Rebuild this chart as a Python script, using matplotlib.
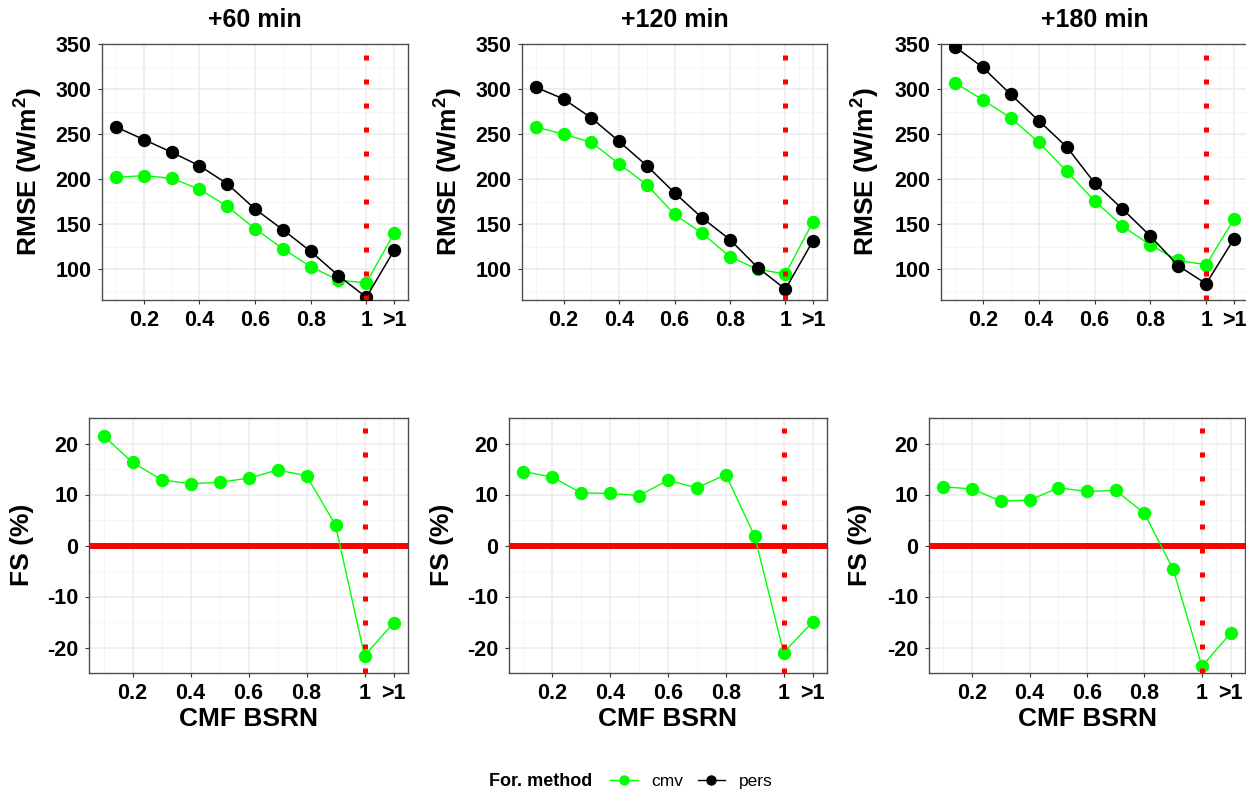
import matplotlib
matplotlib.use("Agg")
import matplotlib.pyplot as plt
from matplotlib.lines import Line2D

plt.rcParams['font.family'] = ['Liberation Sans', 'DejaVu Sans']
plt.rcParams['mathtext.fontset'] = 'custom'
plt.rcParams['mathtext.rm'] = 'Liberation Sans:bold'
plt.rcParams['mathtext.bf'] = 'Liberation Sans:bold'
plt.rcParams['mathtext.default'] = 'bf'
plt.rcParams['axes.unicode_minus'] = False

# CMF classes; 1.1 stands for the ">1" class
cmf = [0.1, 0.2, 0.3, 0.4, 0.5, 0.6, 0.7, 0.8, 0.9, 1.0, 1.1]
tick_pos = [0.2, 0.4, 0.6, 0.8, 1.0, 1.1]
tick_lab = ['0.2', '0.4', '0.6', '0.8', '1', '>1']
horizons = ['+60 min', '+120 min', '+180 min']

rmse_cmv_60 = [202, 204, 201, 189, 170, 145, 123, 103, 88, 85, 140]
rmse_pers_60 = [258, 244, 230, 215, 195, 167, 144, 120, 93, 69, 121]
rmse_cmv_120 = [258, 250, 241, 217, 194, 161, 140, 114, 100, 95, 153]
rmse_pers_120 = [302, 289, 268, 242, 215, 185, 157, 133, 102, 78, 132]
rmse_cmv_180 = [307, 288, 268, 241, 209, 176, 148, 127, 110, 105, 156]
rmse_pers_180 = [347, 324, 294, 265, 236, 196, 167, 137, 104, 84, 134]

fs_60 = [21.5, 16.3, 12.9, 12.1, 12.4, 13.2, 14.8, 13.7, 4.0, -21.6, -15.2]
fs_120 = [14.5, 13.4, 10.3, 10.2, 9.8, 12.8, 11.3, 13.9, 1.8, -21.0, -15.0]
fs_180 = [11.5, 11.1, 8.7, 8.9, 11.3, 10.6, 10.8, 6.3, -4.7, -23.7, -17.2]

rmse_cmv = [rmse_cmv_60, rmse_cmv_120, rmse_cmv_180]
rmse_pers = [rmse_pers_60, rmse_pers_120, rmse_pers_180]
fs = [fs_60, fs_120, fs_180]

GREEN = '#00FF00'
RED = '#FF0000'
W, H = 1246, 794
fig = plt.figure(figsize=(W / 100, H / 100), dpi=100)


def px_axes(l, t, r, b):
    return fig.add_axes([l / W, 1 - b / H, (r - l) / W, (b - t) / H])


def style(ax, ymaj, ymin, ylim):
    ax.set_xlim(0.05, 1.15)
    ax.set_ylim(*ylim)
    ax.set_xticks(tick_pos)
    ax.set_xticklabels(tick_lab)
    ax.set_xticks([0.1, 0.3, 0.5, 0.7, 0.9, 1.05], minor=True)
    ax.set_yticks(ymaj)
    ax.set_yticks(ymin, minor=True)
    ax.grid(which='major', color='#EBEBEB', lw=1.1, zorder=0)
    ax.grid(which='minor', color='#F4F4F4', lw=0.6, zorder=0)
    ax.set_axisbelow(True)
    ax.tick_params(which='major', length=3, width=0.8, color='#333333',
                   labelsize=15.5, pad=4.5)
    ax.tick_params(which='minor', length=0)
    for lab in ax.get_xticklabels() + ax.get_yticklabels():
        lab.set_fontweight('bold')
    for sp in ax.spines.values():
        sp.set_color('#4d4d4d')
        sp.set_linewidth(1.0)


def vline(ax):
    ax.axvline(1.0, color=RED, lw=3.6, ls=(0, (1, 3.8)), zorder=5)


top_l = [102, 522, 941]
top_r = [408, 827, 1248]
bot_l = [89, 509, 929]
bot_r = [408, 827, 1245]
ylab_top_x = [29, 449, 866]
ylab_bot_x = [22.5, 442.5, 860.5]

for i in range(3):
    # RMSE panel
    ax = px_axes(top_l[i], 44, top_r[i], 300)
    style(ax, [100, 150, 200, 250, 300, 350], [75, 125, 175, 225, 275, 325],
          (66, 350))
    ax.plot(cmf, rmse_cmv[i], color=GREEN, lw=1.0, marker='o', ms=8.6,
            zorder=3, clip_on=False)
    ax.plot(cmf, rmse_pers[i], color='black', lw=1.1, marker='o', ms=8.6,
            zorder=4)
    vline(ax)
    fig.text((top_l[i] + top_r[i]) / 2 / W, 1 - 20 / H, horizons[i],
             ha='center', va='center', fontsize=18, fontweight='bold')
    fig.text(ylab_top_x[i] / W, 1 - 172 / H, r'RMSE (W/m$^{2}$)',
             rotation=90, ha='center', va='center', fontsize=19,
             fontweight='bold')

    # FS panel
    ax = px_axes(bot_l[i], 418, bot_r[i], 673)
    style(ax, [-20, -10, 0, 10, 20], [-25, -15, -5, 5, 15, 25], (-25, 25))
    ax.axhline(0, color=RED, lw=4.3, zorder=2)
    ax.plot(cmf, fs[i], color=GREEN, lw=1.0, marker='o', ms=8.6, zorder=3)
    vline(ax)
    fig.text(ylab_bot_x[i] / W, 1 - 545 / H, 'FS (%)', rotation=90,
             ha='center', va='center', fontsize=19, fontweight='bold')
    fig.text((bot_l[i] + bot_r[i]) / 2 / W, 1 - 719 / H, 'CMF BSRN',
             ha='center', va='center', fontsize=19, fontweight='bold')

# legend
fig.text(489 / W, 1 - 781 / H, 'For. method', ha='left', va='center',
         fontsize=13, fontweight='bold')
handles = [Line2D([], [], color=GREEN, lw=1.0, marker='o', ms=6.5),
           Line2D([], [], color='black', lw=1.0, marker='o', ms=6.5)]
fig.legend(handles, ['cmv', 'pers'], loc='center left',
           bbox_to_anchor=(610 / W, 1 - 781 / H), ncol=2, frameon=False,
           fontsize=12.5, handlelength=1.6, handletextpad=0.8,
           columnspacing=0.8, borderpad=0, borderaxespad=0)

fig.savefig('out.png', dpi=100)
